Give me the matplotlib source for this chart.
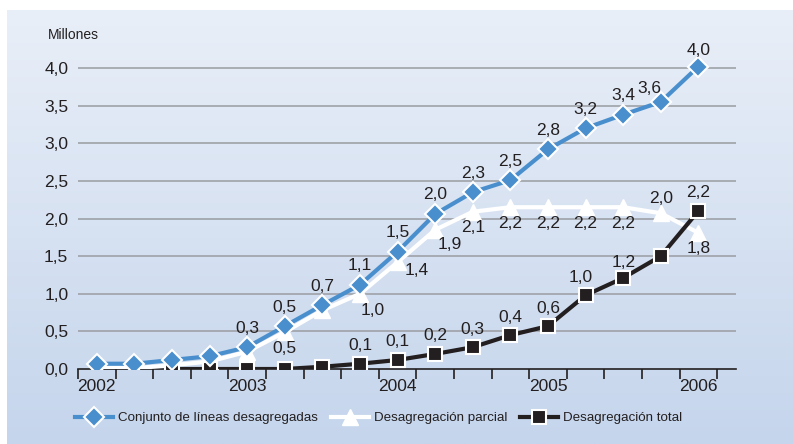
import numpy as np
import matplotlib
matplotlib.use("Agg")
from matplotlib import pyplot as plt
from matplotlib.lines import Line2D

plt.rcParams['font.family'] = ['Liberation Sans', 'DejaVu Sans']

# quarterly observations, 2002 to 2006
years = ['2002', '2003', '2004', '2005', '2006']
conjunto = [0.07, 0.07, 0.12, 0.17, 0.29, 0.57, 0.85, 1.12, 1.56, 2.06, 2.35, 2.51,
            2.92, 3.20, 3.38, 3.55, 4.02]
parcial = [0.02, 0.01, 0.05, 0.10, 0.23, 0.49, 0.78, 1.00, 1.42, 1.85, 2.09, 2.15,
           2.15, 2.15, 2.15, 2.07, 1.81]
total = [np.nan, np.nan, 0.0, 0.0, 0.0, 0.0, 0.03, 0.07, 0.12, 0.20, 0.29, 0.45,
         0.57, 0.98, 1.21, 1.50, 2.10]

lab_conjunto = [None, None, None, None, '0,3', '0,5', '0,7', '1,1', '1,5', '2,0', '2,3',
                '2,5', '2,8', '3,2', '3,4', '3,6', '4,0']
lab_parcial = [None, None, None, None, None, '0,5', None, '1,0', '1,4', '1,9', '2,1',
               '2,2', '2,2', '2,2', '2,2', '2,0', '1,8']
lab_total = [None, None, None, None, None, None, None, '0,1', '0,1', '0,2', '0,3',
             '0,4', '0,6', '1,0', '1,2', None, '2,2']

BLUE = '#4a8fcd'
DARK = '#231f20'
GRID = '#9ea2a8'

fig = plt.figure(figsize=(7.93, 4.44), dpi=100)

# gradient background panel
bg = fig.add_axes([7 / 793, 0, 1 - 7 / 793, 1 - 10 / 444], zorder=-10)
grad = np.linspace(0, 1, 256)[:, None]
top = np.array([233, 239, 248]) / 255
bot = np.array([197, 213, 236]) / 255
img = top[None, None, :] * (1 - grad[:, :, None]) + bot[None, None, :] * grad[:, :, None]
bg.imshow(img, aspect='auto', extent=[0, 1, 0, 1])
bg.axis('off')

ax = fig.add_axes([78 / 793, 1 - 369 / 444, (736 - 78) / 793, (369 - 30.4) / 444])
ax.patch.set_alpha(0)
x = np.arange(len(conjunto))

ax.plot(x, parcial, color='white', lw=3, marker='^', ms=11.5, mec='white', zorder=3)
ax.plot(x, total, color=DARK, lw=3, marker='s', ms=9.5, mfc=DARK, mec='white',
        mew=1.5, zorder=4)
ax.plot(x, conjunto, color=BLUE, lw=3, marker='D', ms=10, mfc=BLUE, mec='white',
        mew=1.5, zorder=5)

# label nudges in pixels (x, y)
def put_labels(vals, labels, dy, nudges={}):
    for i, (v, t) in enumerate(zip(vals, labels)):
        if t is None:
            continue
        dx, ddy = nudges.get(i, (0, dy))
        ax.annotate(t, (x[i], v), xytext=(dx, ddy), textcoords='offset pixels',
                    ha='center', va='center', fontsize=12.5, color=DARK, zorder=6)

put_labels(conjunto, lab_conjunto, 19, {15: (-11, 13), 16: (0, 16)})
put_labels(total, lab_total, 18, {13: (-5, 18), 14: (0, 15)})
put_labels(parcial, lab_parcial, -16, {7: (13, -17), 8: (19, -8), 9: (15, -15),
                                        15: (0, 15)})

ax.set_xlim(-0.5, 17.0)
ax.set_ylim(0, 4.5)
ax.set_yticks(np.arange(0, 4.01, 0.5))
ax.set_yticklabels([f'{v:.1f}'.replace('.', ',') for v in np.arange(0, 4.01, 0.5)])
for yv in np.arange(0.5, 4.01, 0.5):
    ax.axhline(yv, color=GRID, lw=1.2, zorder=1)

ax.set_xticks([0, 4, 8, 12, 16])
ax.set_xticklabels(years)
ax.set_xticks(np.arange(-0.5, 17, 1), minor=True)
ax.tick_params(axis='x', which='major', length=0, pad=7, labelsize=12.5, labelcolor=DARK)
ax.tick_params(axis='x', which='minor', length=7, width=1.2, color=DARK, direction='out')
ax.tick_params(axis='y', length=0, pad=7, labelsize=12.5, labelcolor=DARK)

for s in ['top', 'right', 'left']:
    ax.spines[s].set_visible(False)
ax.spines['bottom'].set_color(DARK)
ax.spines['bottom'].set_linewidth(1.2)
ax.spines['bottom'].set_zorder(2)

fig.text(48 / 793, 1 - 35 / 444, 'Millones', fontsize=10, color=DARK, va='center', ha='left')

handles = [
    Line2D([], [], color=BLUE, lw=3, marker='D', ms=10, mfc=BLUE, mec='white', mew=1.5),
    Line2D([], [], color='white', lw=3, marker='^', ms=11.5, mec='white'),
    Line2D([], [], color=DARK, lw=3, marker='s', ms=9.5, mfc=DARK, mec='white', mew=1.5),
]
names = ['Conjunto de líneas desagregadas', 'Desagregación parcial', 'Desagregación total']
fig.legend(handles, names, loc='center left', bbox_to_anchor=(75 / 793, 1 - 418 / 444),
           ncol=3, frameon=False, fontsize=9.6, handlelength=2.85, handletextpad=0.38,
           columnspacing=0.95, borderaxespad=0, borderpad=0, labelcolor=DARK)

fig.savefig('out.png', dpi=100)
